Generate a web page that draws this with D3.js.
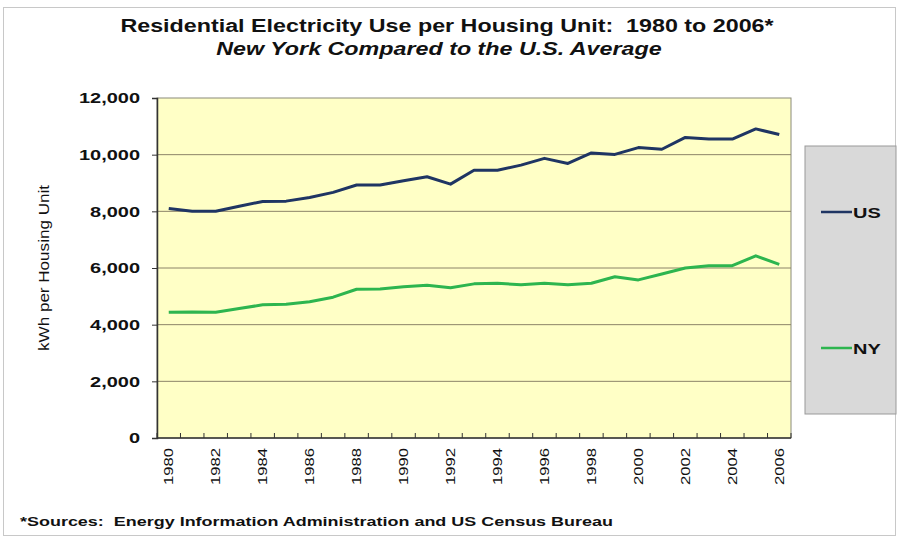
<!DOCTYPE html>
<html>
<head>
<meta charset="utf-8">
<script src="https://cdn.jsdelivr.net/npm/d3@7"></script>
<style>
body{margin:0;background:#fff;}
text{font-family:"Liberation Sans",Arial,sans-serif;fill:#111;}
</style>
</head>
<body>
<div id="chart"></div>
<script>
// data
var years=[1980,1981,1982,1983,1984,1985,1986,1987,1988,1989,1990,1991,1992,1993,1994,1995,1996,1997,1998,1999,2000,2001,2002,2003,2004,2005,2006];
var usVals=[8100,8000,8000,8180,8350,8360,8490,8670,8930,8930,9080,9220,8960,9450,9450,9630,9870,9690,10060,10010,10250,10190,10610,10550,10550,10910,10710];
var nyVals=[4440,4450,4440,4570,4700,4720,4810,4970,5250,5260,5340,5390,5300,5440,5460,5410,5460,5410,5460,5690,5580,5790,6000,6080,6080,6430,6130];
var yTicks=[0,2000,4000,6000,8000,10000,12000];
var seriesNames=["US","NY"];
var seriesColors=["#1f3563","#2db54f"];

var W=899,H=538;
var svg=d3.select("#chart").append("svg").attr("width",W).attr("height",H);

//outer frame
svg.append("rect").attr("x",3.5).attr("y",7.5).attr("width",W-7).attr("height",H-10)
	.attr("fill","none").attr("stroke","#c8c8c8");

var x=d3.scaleBand().domain(years).range([157,791]);
var y=d3.scaleLinear().domain([0,12000]).range([438,98]);

//plot area
svg.append("rect").attr("x",157).attr("y",98).attr("width",634).attr("height",340)
	.attr("fill","#ffffc6").attr("stroke","#8a8a7a");

//gridlines
svg.append("g").selectAll("line").data(yTicks.slice(1,-1)).enter().append("line")
	.attr("x1",157).attr("x2",791)
	.attr("y1",function(d){return y(d);}).attr("y2",function(d){return y(d);})
	.attr("stroke","#8c8468").attr("stroke-width",1);

//y axis
var yAxis=svg.append("g").attr("transform","translate(157,0)")
	.call(d3.axisLeft(y).tickValues(yTicks).tickSize(5).tickPadding(12).tickFormat(d3.format(",")));
yAxis.select(".domain").attr("stroke","#333").attr("stroke-width",1.5);
yAxis.selectAll(".tick line").attr("stroke","#333");
yAxis.selectAll("text").attr("font-size","15px").attr("font-weight","bold").attr("fill","#111").classed("wide",true);

//x axis: ticks at category edges
var xg=svg.append("g").attr("transform","translate(0,438)");
xg.append("line").attr("x1",157).attr("x2",791).attr("stroke","#333").attr("stroke-width",1.5);
xg.selectAll("line.tk").data(years.concat([2007])).enter().append("line").attr("class","tk")
	.attr("x1",function(d,i){return 157+i*x.step();}).attr("x2",function(d,i){return 157+i*x.step();})
	.attr("y1",0).attr("y2",-5).attr("stroke","#333");
xg.selectAll("text").data(years.filter(function(d){return d%2==0;})).enter().append("text")
	.attr("transform",function(d){return "translate("+(x(d)+x.bandwidth()/2+4.5)+",10) rotate(-90)";})
	.attr("text-anchor","end").attr("font-size","12.5px")
	.attr("textLength",37).attr("lengthAdjust","spacingAndGlyphs").text(function(d){return d;});

//lines
var line=d3.line().x(function(d,i){return x(years[i])+x.bandwidth()/2;}).y(function(d){return y(d);});
[usVals,nyVals].forEach(function(vals,k){
	svg.append("path").datum(vals).attr("d",line).attr("fill","none")
		.attr("stroke",seriesColors[k]).attr("stroke-width",3).attr("stroke-linejoin","round");
});

//legend
svg.append("rect").attr("x",805).attr("y",146).attr("width",91).attr("height",268)
	.attr("fill","#d9d9d9").attr("stroke","#999");
var legY=[212,348];
seriesNames.forEach(function(n,k){
	svg.append("line").attr("x1",821).attr("x2",852).attr("y1",legY[k]).attr("y2",legY[k])
		.attr("stroke",seriesColors[k]).attr("stroke-width",2.5);
	svg.append("text").attr("x",853).attr("y",legY[k]+6).attr("font-size","15px").attr("font-weight","bold")
		.classed("wide",true).text(n);
});

//titles
svg.append("text").attr("x",447).attr("y",32).attr("text-anchor","middle").attr("font-size","17.5px")
	.attr("font-weight","bold").attr("xml:space","preserve").classed("wide",true)
	.text("Residential Electricity Use per Housing Unit:  1980 to 2006*");
svg.append("text").attr("x",439).attr("y",55).attr("text-anchor","middle").attr("font-size","17.5px")
	.attr("font-weight","bold").attr("font-style","italic").classed("wide",true)
	.text("New York Compared to the U.S. Average");

//axis title
svg.append("text").attr("transform","translate(49,268) rotate(-90)").attr("text-anchor","middle")
	.attr("font-size","15.5px").attr("textLength",166).attr("lengthAdjust","spacingAndGlyphs")
	.text("kWh per Housing Unit");

//footnote
svg.append("text").attr("x",20).attr("y",526).attr("font-size","13.5px").attr("font-weight","bold")
	.attr("fill","#222").attr("xml:space","preserve").classed("wide",true)
	.text("*Sources:  Energy Information Administration and US Census Bureau");

//the picture's text is stretched sideways, widen it the same way
svg.selectAll("text.wide").each(function(){
	var w=this.getComputedTextLength();
	this.setAttribute("textLength",w*1.33);
	this.setAttribute("lengthAdjust","spacingAndGlyphs");
});
</script>
</body>
</html>
